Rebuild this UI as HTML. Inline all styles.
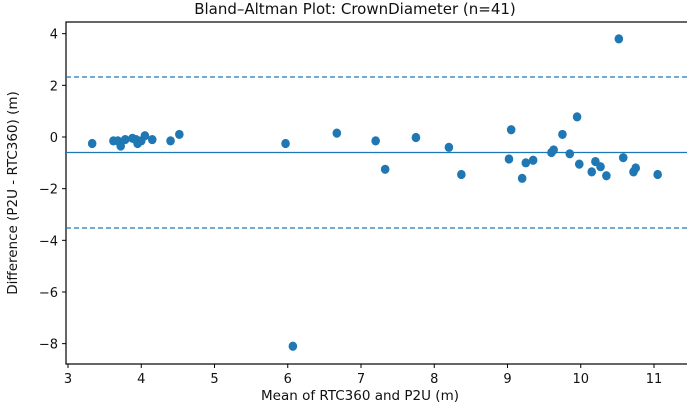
<!DOCTYPE html><html><head><style>body{margin:0;background:#fff}svg{display:block;font-family:"DejaVu Sans","Liberation Sans",sans-serif}</style></head><body>
<svg width="687" height="407" viewBox="0 0 687 407">
<text x="355" y="14" font-size="15" text-anchor="middle" fill="#111">Bland–Altman Plot: CrownDiameter (n=41)</text>
<rect x="66" y="22" width="640" height="342" fill="none" stroke="#000" stroke-width="1.2"/>
<g stroke="#1f77b4" stroke-width="1.3">
<line x1="66" x2="687" y1="152.5" y2="152.5"/>
<line x1="66" x2="687" y1="77" y2="77" stroke-dasharray="5,3"/>
<line x1="66" x2="687" y1="228" y2="228" stroke-dasharray="5,3"/>
</g>
<g fill="#1f77b4" id="pts"></g>
<g font-size="13" fill="#111" text-anchor="end" id="yt"></g>
<g font-size="13" fill="#111" text-anchor="middle" id="xt"></g>
<text x="360" y="400" font-size="13.5" text-anchor="middle" fill="#111">Mean of RTC360 and P2U (m)</text>
<text transform="translate(17,193) rotate(-90)" font-size="13.5" text-anchor="middle" fill="#111">Difference (P2U - RTC360) (m)</text>
</svg>
<script>
var X=v=>68+(v-3)*73.25,Y=v=>137-v*25.83,ns="http://www.w3.org/2000/svg";
var d=[[3.33,-0.25],[3.62,-0.15],[3.68,-0.15],[3.72,-0.35],[3.78,-0.1],[3.88,-0.05],[3.93,-0.1],[3.95,-0.25],[4.0,-0.15],[4.05,0.05],[4.15,-0.1],[4.4,-0.15],[4.52,0.1],[5.97,-0.25],[6.67,0.15],[6.07,-8.1],[7.2,-0.15],[7.33,-1.25],[7.75,-0.02],[8.2,-0.4],[8.37,-1.45],[9.02,-0.85],[9.05,0.28],[9.2,-1.6],[9.25,-1.0],[9.35,-0.9],[9.6,-0.6],[9.63,-0.5],[9.75,0.1],[9.85,-0.65],[9.95,0.78],[9.98,-1.05],[10.15,-1.35],[10.2,-0.95],[10.27,-1.15],[10.35,-1.5],[10.52,3.8],[10.58,-0.8],[10.72,-1.35],[10.75,-1.2],[11.05,-1.45]];
var g=document.getElementById("pts");
d.forEach(p=>{var c=document.createElementNS(ns,"ellipse");c.setAttribute("cx",X(p[0]));c.setAttribute("cy",Y(p[1]));c.setAttribute("rx",4.3);c.setAttribute("ry",4.6);g.appendChild(c)});
var s=document.querySelector("svg"),yt=document.getElementById("yt"),xt=document.getElementById("xt");
[4,2,0,-2,-4,-6,-8].forEach(v=>{var l=document.createElementNS(ns,"line");l.setAttribute("x1",62);l.setAttribute("x2",66);l.setAttribute("y1",Y(v));l.setAttribute("y2",Y(v));l.setAttribute("stroke","#000");s.appendChild(l);var t=document.createElementNS(ns,"text");t.setAttribute("x",58);t.setAttribute("y",Y(v)+5);t.textContent=(v<0?"\u2212":"")+Math.abs(v);yt.appendChild(t)});
for(var v=3;v<=11;v++){var l=document.createElementNS(ns,"line");l.setAttribute("x1",X(v));l.setAttribute("x2",X(v));l.setAttribute("y1",364);l.setAttribute("y2",368);l.setAttribute("stroke","#000");s.appendChild(l);var t=document.createElementNS(ns,"text");t.setAttribute("x",X(v));t.setAttribute("y",383);t.textContent=v;xt.appendChild(t)}
</script>
</body></html>
